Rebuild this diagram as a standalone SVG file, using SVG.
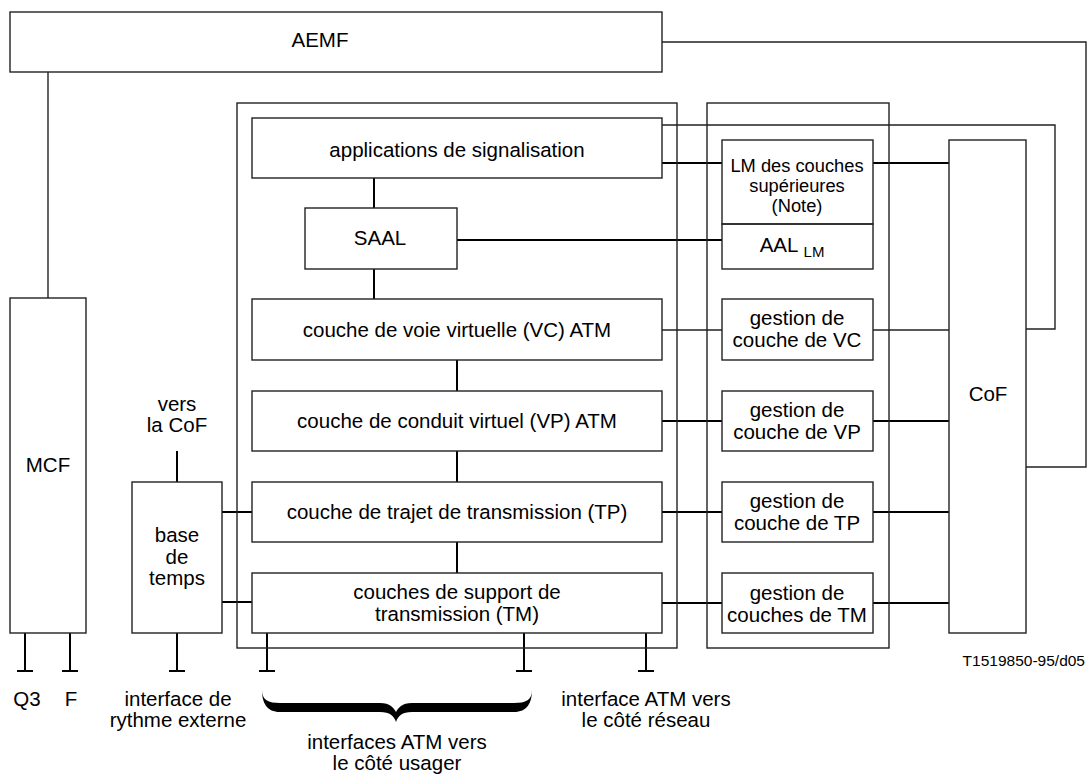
<svg xmlns="http://www.w3.org/2000/svg" width="1091" height="774" viewBox="0 0 1091 774">
<style>
.b{fill:none;stroke:#222;stroke-width:1.4}
.c{fill:none;stroke:#000;stroke-width:2}
.t{fill:none;stroke:#222;stroke-width:1.4}
text{font-family:"Liberation Sans",Arial,sans-serif;font-size:20.5px;fill:#000;text-anchor:middle}
.s{font-size:18.3px}
</style>
<rect width="1091" height="774" fill="#fff"/>
<g id="connectors">
<path class="t" d="M48,72V298"/>
<path class="t" d="M662,42H1086V467H1026"/>
<path class="t" d="M662,125H1055V329H1026"/>
<path class="c" d="M662,163H722M873,163H949"/>
<path class="c" d="M457,240H722"/>
<path class="c" d="M374,178V208M374,269V299"/>
<path class="t" d="M662,330H722M873,330H949"/>
<path class="c" d="M457,360V391M457,451V482M457,542V573"/>
<path class="c" d="M662,421H722M873,421H949"/>
<path class="c" d="M662,512H722M873,512H949"/>
<path class="c" d="M662,603H722M873,603H949"/>
<path class="c" d="M222,512H252M222,602H252"/>
<path class="c" d="M177,451V482"/>
<path class="c" d="M25,633V671M17,671H33M70,633V671M62,671H78"/>
<path class="c" d="M177,633V671M169,671H185"/>
<path class="c" d="M267,633V671M259,671H275M524,633V671M516,671H532M646,633V671M638,671H654"/>
<path fill="#000" d="M262,690C262,700 268,703 280,703L380,703C390,703 394,708 396,712C398,708 402,703 412,703L514,703C526,703 532,700 532,690C532,703 527,712 514,712L412,712C402,712 398,716 396,722C394,716 390,712 380,712L280,712C267,712 262,703 262,690Z"/>
</g>
<g id="outer1"><rect class="b" x="237" y="103" width="440" height="545"/></g>
<g id="outer2"><rect class="b" x="707" y="103" width="182" height="545"/></g>
<g id="aemf"><rect class="b" x="10" y="12" width="652" height="60"/><text x="320" y="47">AEMF</text></g>
<g id="mcf"><rect class="b" x="10" y="298" width="76" height="335"/><text x="48" y="472">MCF</text></g>
<g id="cof"><rect class="b" x="949" y="140" width="77" height="493"/><text x="988" y="401">CoF</text></g>
<g id="apps"><rect class="b" x="252" y="118" width="410" height="60"/><text x="457" y="157">applications de signalisation</text></g>
<g id="saal"><rect class="b" x="305" y="208" width="152" height="61"/><text x="380" y="245">SAAL</text></g>
<g id="vc"><rect class="b" x="252" y="299" width="410" height="61"/><text x="457" y="337">couche de voie virtuelle (VC) ATM</text></g>
<g id="vp"><rect class="b" x="252" y="391" width="410" height="60"/><text x="457" y="428">couche de conduit virtuel (VP) ATM</text></g>
<g id="tp"><rect class="b" x="252" y="482" width="410" height="60"/><text x="457" y="519">couche de trajet de transmission (TP)</text></g>
<g id="tm"><rect class="b" x="252" y="573" width="410" height="60"/><text x="457" y="599">couches de support de</text><text x="457" y="621">transmission (TM)</text></g>
<g id="lm"><rect class="b" x="722" y="140" width="151" height="84"/><text class="s" x="797" y="172">LM des couches</text><text class="s" x="797" y="192">supérieures</text><text class="s" x="797" y="212">(Note)</text></g>
<g id="aal"><rect class="b" x="722" y="224" width="151" height="45"/><text x="779" y="252">AAL</text><text x="814" y="257" style="font-size:15px">LM</text></g>
<g id="gvc"><rect class="b" x="722" y="299" width="151" height="61"/><text x="797" y="325">gestion de</text><text x="797" y="347">couche de VC</text></g>
<g id="gvp"><rect class="b" x="722" y="391" width="151" height="60"/><text x="797" y="417">gestion de</text><text x="797" y="439">couche de VP</text></g>
<g id="gtp"><rect class="b" x="722" y="482" width="151" height="60"/><text x="797" y="508">gestion de</text><text x="797" y="530">couche de TP</text></g>
<g id="gtm"><rect class="b" x="722" y="573" width="151" height="60"/><text x="797" y="600">gestion de</text><text x="797" y="622">couches de TM</text></g>
<g id="base"><rect class="b" x="132" y="482" width="90" height="151"/><text x="177" y="542">base</text><text x="177" y="564">de</text><text x="177" y="585">temps</text></g>
<g id="labels">
<text x="177" y="411">vers</text><text x="177" y="432">la CoF</text>
<text x="27" y="706">Q3</text><text x="71" y="706">F</text>
<text x="178" y="706">interface de</text><text x="178" y="727">rythme externe</text>
<text x="397" y="749">interfaces ATM vers</text><text x="397" y="770">le côté usager</text>
<text x="646" y="706">interface ATM vers</text><text x="646" y="727">le côté réseau</text>
<text x="1085" y="666" style="font-size:15.5px;text-anchor:end">T1519850-95/d05</text>
</g>
</svg>
